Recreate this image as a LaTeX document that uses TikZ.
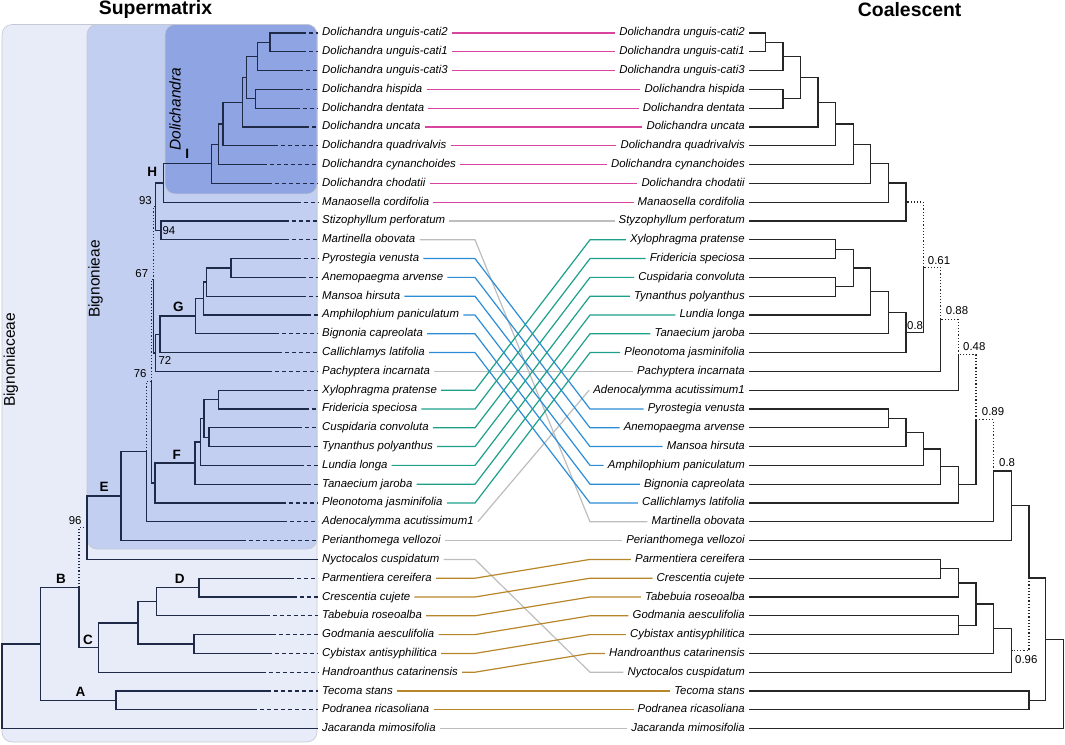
\documentclass[tikz,border=0pt]{standalone}
\usepackage{fontspec}
\setmainfont{Liberation Sans}
\definecolor{treecol}{HTML}{1E2A47}
\definecolor{famfill}{HTML}{E7ECF8}
\definecolor{tribefill}{HTML}{C3CFF0}
\definecolor{genfill}{HTML}{8EA4E3}
\definecolor{boxedge}{HTML}{C4C8D4}
\definecolor{magline}{HTML}{D8449F}
\definecolor{gryline}{HTML}{BDBDBD}
\definecolor{bluline}{HTML}{2D8CD6}
\definecolor{grnline}{HTML}{1CA08A}
\definecolor{gldline}{HTML}{B8862A}
\tikzset{
  tree/.style={treecol,line width=1.3pt},
  ctree/.style={black!85,line width=1.3pt},
  tipdash/.style={treecol,line width=1.1pt,dash pattern=on 4pt off 3pt},
  lowsup/.style={treecol,line width=1.2pt,dash pattern=on 1.2pt off 2pt},
  clowsup/.style={black!85,line width=1.2pt,dash pattern=on 1.2pt off 2pt},
  cbox/.style={draw=boxedge,line width=0.6pt,rounded corners=10pt},
  lft/.style={anchor=west,inner xsep=4pt,inner ysep=1pt,text height=8pt,text depth=2pt,font=\itshape\fontsize{11.4}{12}\selectfont},
  rgt/.style={anchor=east,inner xsep=4pt,inner ysep=1pt,text height=8pt,text depth=2pt,font=\itshape\fontsize{11.4}{12}\selectfont},
  sup/.style={inner sep=1pt,font=\fontsize{11.4}{12}\selectfont},
  clade/.style={inner sep=0pt,font=\bfseries\fontsize{13.5}{14}\selectfont},
  link/.style={line width=1.2pt},
}
\begin{document}
\begin{tikzpicture}[x=1pt,y=-18.8pt]
\useasboundingbox (0,-1.755) rectangle (1065,37.82);
\draw[cbox,fill=famfill] (2,-0.45) rectangle (317,37.71);
\draw[cbox,fill=tribefill] (87,-0.45) rectangle (317,27.45);
\draw[cbox,fill=genfill] (165,-0.45) rectangle (317,8.56);
\node[font=\bfseries\fontsize{19.4}{20}\selectfont] (supm) at (155.5,-1.27) {Supermatrix};
\node[font=\bfseries\fontsize{19.4}{20}\selectfont] (coal) at (909.7,-1.27) {Coalescent};
\node[rotate=90,font=\fontsize{15.5}{16}\selectfont] (fam) at (10.8,17.39) {Bignoniaceae};
\node[rotate=90,font=\fontsize{15.5}{16}\selectfont] (tribe) at (95.5,13.09) {Bignonieae};
\node[rotate=90,font=\itshape\fontsize{15.5}{16}\selectfont] (genus) at (175,4.05) {Dolichandra};

\node[lft] (L0) at (318,0) {Dolichandra unguis-cati2};
\node[lft] (L1) at (318,1) {Dolichandra unguis-cati1};
\node[lft] (L2) at (318,2) {Dolichandra unguis-cati3};
\node[lft] (L3) at (318,3) {Dolichandra hispida};
\node[lft] (L4) at (318,4) {Dolichandra dentata};
\node[lft] (L5) at (318,5) {Dolichandra uncata};
\node[lft] (L6) at (318,6) {Dolichandra quadrivalvis};
\node[lft] (L7) at (318,7) {Dolichandra cynanchoides};
\node[lft] (L8) at (318,8) {Dolichandra chodatii};
\node[lft] (L9) at (318,9) {Manaosella cordifolia};
\node[lft] (L10) at (318,10) {Stizophyllum perforatum};
\node[lft] (L11) at (318,11) {Martinella obovata};
\node[lft] (L12) at (318,12) {Pyrostegia venusta};
\node[lft] (L13) at (318,13) {Anemopaegma arvense};
\node[lft] (L14) at (318,14) {Mansoa hirsuta};
\node[lft] (L15) at (318,15) {Amphilophium paniculatum};
\node[lft] (L16) at (318,16) {Bignonia capreolata};
\node[lft] (L17) at (318,17) {Callichlamys latifolia};
\node[lft] (L18) at (318,18) {Pachyptera incarnata};
\node[lft] (L19) at (318,19) {Xylophragma pratense};
\node[lft] (L20) at (318,20) {Fridericia speciosa};
\node[lft] (L21) at (318,21) {Cuspidaria convoluta};
\node[lft] (L22) at (318,22) {Tynanthus polyanthus};
\node[lft] (L23) at (318,23) {Lundia longa};
\node[lft] (L24) at (318,24) {Tanaecium jaroba};
\node[lft] (L25) at (318,25) {Pleonotoma jasminifolia};
\node[lft] (L26) at (318,26) {Adenocalymma acutissimum1};
\node[lft] (L27) at (318,27) {Perianthomega vellozoi};
\node[lft] (L28) at (318,28) {Nyctocalos cuspidatum};
\node[lft] (L29) at (318,29) {Parmentiera cereifera};
\node[lft] (L30) at (318,30) {Crescentia cujete};
\node[lft] (L31) at (318,31) {Tabebuia roseoalba};
\node[lft] (L32) at (318,32) {Godmania aesculifolia};
\node[lft] (L33) at (318,33) {Cybistax antisyphilitica};
\node[lft] (L34) at (318,34) {Handroanthus catarinensis};
\node[lft] (L35) at (318,35) {Tecoma stans};
\node[lft] (L36) at (318,36) {Podranea ricasoliana};
\node[lft] (L37) at (318,37) {Jacaranda mimosifolia};

\node[rgt] (R0) at (749,0) {Dolichandra unguis-cati2};
\node[rgt] (R1) at (749,1) {Dolichandra unguis-cati1};
\node[rgt] (R2) at (749,2) {Dolichandra unguis-cati3};
\node[rgt] (R3) at (749,3) {Dolichandra hispida};
\node[rgt] (R4) at (749,4) {Dolichandra dentata};
\node[rgt] (R5) at (749,5) {Dolichandra uncata};
\node[rgt] (R6) at (749,6) {Dolichandra quadrivalvis};
\node[rgt] (R7) at (749,7) {Dolichandra cynanchoides};
\node[rgt] (R8) at (749,8) {Dolichandra chodatii};
\node[rgt] (R9) at (749,9) {Manaosella cordifolia};
\node[rgt] (R10) at (749,10) {Styzophyllum perforatum};
\node[rgt] (R11) at (749,11) {Xylophragma pratense};
\node[rgt] (R12) at (749,12) {Fridericia speciosa};
\node[rgt] (R13) at (749,13) {Cuspidaria convoluta};
\node[rgt] (R14) at (749,14) {Tynanthus polyanthus};
\node[rgt] (R15) at (749,15) {Lundia longa};
\node[rgt] (R16) at (749,16) {Tanaecium jaroba};
\node[rgt] (R17) at (749,17) {Pleonotoma jasminifolia};
\node[rgt] (R18) at (749,18) {Pachyptera incarnata};
\node[rgt] (R19) at (749,19) {Adenocalymma acutissimum1};
\node[rgt] (R20) at (749,20) {Pyrostegia venusta};
\node[rgt] (R21) at (749,21) {Anemopaegma arvense};
\node[rgt] (R22) at (749,22) {Mansoa hirsuta};
\node[rgt] (R23) at (749,23) {Amphilophium paniculatum};
\node[rgt] (R24) at (749,24) {Bignonia capreolata};
\node[rgt] (R25) at (749,25) {Callichlamys latifolia};
\node[rgt] (R26) at (749,26) {Martinella obovata};
\node[rgt] (R27) at (749,27) {Perianthomega vellozoi};
\node[rgt] (R28) at (749,28) {Parmentiera cereifera};
\node[rgt] (R29) at (749,29) {Crescentia cujete};
\node[rgt] (R30) at (749,30) {Tabebuia roseoalba};
\node[rgt] (R31) at (749,31) {Godmania aesculifolia};
\node[rgt] (R32) at (749,32) {Cybistax antisyphilitica};
\node[rgt] (R33) at (749,33) {Handroanthus catarinensis};
\node[rgt] (R34) at (749,34) {Nyctocalos cuspidatum};
\node[rgt] (R35) at (749,35) {Tecoma stans};
\node[rgt] (R36) at (749,36) {Podranea ricasoliana};
\node[rgt] (R37) at (749,37) {Jacaranda mimosifolia};

\coordinate (s0) at (301.7,0); \coordinate (s1) at (301.7,1); \coordinate (s2) at (299,2);
\coordinate (s3) at (299,3); \coordinate (s4) at (295.7,4); \coordinate (s5) at (305,5);
\coordinate (s6) at (274,6); \coordinate (s7) at (263,7); \coordinate (s8) at (268,8);
\coordinate (s9) at (296.7,9); \coordinate (s10) at (285,10); \coordinate (s11) at (285,11);
\coordinate (s12) at (296.7,12); \coordinate (s13) at (301.7,13); \coordinate (s14) at (301.7,14);
\coordinate (s15) at (306.7,15); \coordinate (s16) at (275,16); \coordinate (s17) at (278,17);
\coordinate (s18) at (268,18); \coordinate (s19) at (300,19); \coordinate (s20) at (305,20);
\coordinate (s21) at (298,21); \coordinate (s22) at (306.7,22); \coordinate (s23) at (300,23);
\coordinate (s24) at (306.7,24); \coordinate (s25) at (281.7,25); \coordinate (s26) at (283,26);
\coordinate (s27) at (241.7,27); \coordinate (s29) at (290,29); \coordinate (s30) at (293,30);
\coordinate (s31) at (265.7,31); \coordinate (s32) at (271.7,32); \coordinate (s33) at (268.3,33);
\coordinate (s34) at (261.7,34); \coordinate (s35) at (266.7,35); \coordinate (s36) at (253,36);

\coordinate (n01) at (270,0.5);
\coordinate (n012) at (257.3,1.25);
\coordinate (n34) at (255.3,3.5);
\coordinate (n0_4) at (246.7,2.375);
\coordinate (n0_5) at (242.3,3.69);
\coordinate (n0_6) at (223,4.84);
\coordinate (n0_7) at (218.3,5.92);
\coordinate (nI) at (211.7,6.96);
\coordinate (nH) at (163.3,7.98);
\coordinate (n94) at (161,10.5);
\coordinate (nHS) at (155.7,9.24);
\coordinate (n12) at (231,12.5);
\coordinate (n12_14) at (206.7,13.25);
\coordinate (n12_15) at (203.3,14.125);
\coordinate (n12_16) at (195.7,15.06);
\coordinate (nG) at (160,16.03);
\coordinate (n72) at (155.7,17.02);
\coordinate (n93) at (153.7,13.13);
\coordinate (n19) at (218.3,19.5);
\coordinate (n21) at (209,21.5);
\coordinate (n19_22) at (204,20.5);
\coordinate (n19_23) at (200.7,21.75);
\coordinate (nF) at (195,22.875);
\coordinate (nFp) at (155,23.94);
\coordinate (n67) at (151.2,18.53);
\coordinate (n76) at (146.7,22.27);
\coordinate (nE2) at (121,24.63);
\coordinate (nE) at (87,26.32);
\coordinate (n29) at (199,29.5);
\coordinate (n29_31) at (156.7,30.25);
\coordinate (n32) at (194,32.5);
\coordinate (n29_33) at (138,31.375);
\coordinate (nC) at (98.7,32.69);
\coordinate (n96) at (79,29.5);
\coordinate (nA) at (116,35.5);
\coordinate (nB) at (40.7,32.5);
\coordinate (nroot) at (2,34.75);

\draw[tree] (n01) |- (s0) (n01) |- (s1) (n012) |- (n01) (n012) |- (s2);
\draw[tree] (n34) |- (s3) (n34) |- (s4) (n0_4) |- (n012) (n0_4) |- (n34);
\draw[tree] (n0_5) |- (n0_4) (n0_5) |- (s5) (n0_6) |- (n0_5) (n0_6) |- (s6);
\draw[tree] (n0_7) |- (n0_6) (n0_7) |- (s7) (nI) |- (n0_7) (nI) |- (s8);
\draw[tree] (nH) |- (nI) (nH) |- (s9) (n94) |- (s10) (n94) |- (s11);
\draw[tree] (nHS) |- (nH) (nHS) |- (n94);
\draw[tree] (n12) |- (s12) (n12) |- (s13) (n12_14) |- (n12) (n12_14) |- (s14);
\draw[tree] (n12_15) |- (n12_14) (n12_15) |- (s15) (n12_16) |- (n12_15) (n12_16) |- (s16);
\draw[tree] (nG) |- (n12_16) (nG) |- (s17) (n72) |- (nG) (n72) |- (s18);
\draw[tree] (n93) |- (n72);
\draw[lowsup] (n93) |- (nHS);
\draw[tree] (n19) |- (s19) (n19) |- (s20) (n21) |- (s21) (n21) |- (s22);
\draw[tree] (n19_22) |- (n19) (n19_22) |- (n21) (n19_23) |- (n19_22) (n19_23) |- (s23);
\draw[tree] (nF) |- (n19_23) (nF) |- (s24) (nFp) |- (nF) (nFp) |- (s25);
\draw[tree] (n67) |- (nFp);
\draw[lowsup] (n67) |- (n93);
\draw[tree] (n76) |- (s26);
\draw[lowsup] (n76) |- (n67);
\draw[tree] (nE2) |- (n76) (nE2) |- (s27) (nE) |- (nE2) (nE) |- (L28.west);
\draw[tree] (n29) |- (s29) (n29) |- (s30) (n29_31) |- (n29) (n29_31) |- (s31);
\draw[tree] (n32) |- (s32) (n32) |- (s33) (n29_33) |- (n29_31) (n29_33) |- (n32);
\draw[tree] (nC) |- (n29_33) (nC) |- (s34) (n96) |- (nC);
\draw[lowsup] (n96) |- (nE);
\draw[tree] (nA) |- (s35) (nA) |- (s36) (nB) |- (n96) (nB) |- (nA);
\draw[tree] (nroot) |- (nB) (nroot) |- (L37.west);

\draw[tipdash] (s0) -- (L0.west); \draw[tipdash] (s1) -- (L1.west); \draw[tipdash] (s2) -- (L2.west);
\draw[tipdash] (s3) -- (L3.west); \draw[tipdash] (s4) -- (L4.west); \draw[tipdash] (s5) -- (L5.west);
\draw[tipdash] (s6) -- (L6.west); \draw[tipdash] (s7) -- (L7.west); \draw[tipdash] (s8) -- (L8.west);
\draw[tipdash] (s9) -- (L9.west); \draw[tipdash] (s10) -- (L10.west); \draw[tipdash] (s11) -- (L11.west);
\draw[tipdash] (s12) -- (L12.west); \draw[tipdash] (s13) -- (L13.west); \draw[tipdash] (s14) -- (L14.west);
\draw[tipdash] (s15) -- (L15.west); \draw[tipdash] (s16) -- (L16.west); \draw[tipdash] (s17) -- (L17.west);
\draw[tipdash] (s18) -- (L18.west); \draw[tipdash] (s19) -- (L19.west); \draw[tipdash] (s20) -- (L20.west);
\draw[tipdash] (s21) -- (L21.west); \draw[tipdash] (s22) -- (L22.west); \draw[tipdash] (s23) -- (L23.west);
\draw[tipdash] (s24) -- (L24.west); \draw[tipdash] (s25) -- (L25.west); \draw[tipdash] (s26) -- (L26.west);
\draw[tipdash] (s27) -- (L27.west); \draw[tipdash] (s29) -- (L29.west); \draw[tipdash] (s30) -- (L30.west);
\draw[tipdash] (s31) -- (L31.west); \draw[tipdash] (s32) -- (L32.west); \draw[tipdash] (s33) -- (L33.west);
\draw[tipdash] (s34) -- (L34.west); \draw[tipdash] (s35) -- (L35.west); \draw[tipdash] (s36) -- (L36.west);

\node[clade] (cI) at (187.2,6.43) {I};
\node[clade] (cH) at (152.2,7.41) {H};
\node[clade] (cG) at (178.3,14.56) {G};
\node[clade] (cF) at (176.7,22.45) {F};
\node[clade] (cE) at (104.2,24.13) {E};
\node[clade] (cD) at (179.8,29.01) {D};
\node[clade] (cC) at (88,32.26) {C};
\node[clade] (cB) at (61,29.01) {B};
\node[clade] (cA) at (80.5,35.02) {A};
\node[sup,anchor=south east] (b93) at (153,9.2) {93};
\node[sup,anchor=west] (b94) at (161.3,10.49) {94};
\node[sup,anchor=south east] (b67) at (149.3,13.1) {67};
\node[sup,anchor=north west] (b72) at (157.3,17.13) {72};
\node[sup,anchor=south east] (b76) at (147.7,18.42) {76};
\node[sup,anchor=south east] (b96) at (82.7,26.2) {96};

\coordinate (r01) at (765.7,0.5);
\coordinate (r012) at (783,1.25);
\coordinate (r34) at (783,3.5);
\coordinate (r0_4) at (800.3,2.375);
\coordinate (r0_5) at (818,3.69);
\coordinate (r0_6) at (835.7,4.84);
\coordinate (r0_7) at (853.3,5.92);
\coordinate (r0_8) at (870.7,6.96);
\coordinate (r0_9) at (888.3,7.98);
\coordinate (r0_10) at (906,8.99);
\coordinate (r11) at (835.7,11.5);
\coordinate (r13) at (835.7,13.5);
\coordinate (r11_14) at (853.3,12.5);
\coordinate (r11_15) at (870.7,13.75);
\coordinate (r11_16) at (888.3,14.875);
\coordinate (r11_17) at (906,15.94);
\coordinate (r61) at (923.3,12.46);
\coordinate (r88) at (940.7,15.23);
\coordinate (r48) at (958.3,17.12);
\coordinate (r20) at (888.3,20.5);
\coordinate (r20_22) at (906,21.25);
\coordinate (r20_23) at (923.3,22.125);
\coordinate (r20_24) at (940.7,23.06);
\coordinate (r20_25) at (958.3,24.03);
\coordinate (r89) at (976,20.57);
\coordinate (r80) at (993.3,23.29);
\coordinate (r27) at (1011.7,25.14);
\coordinate (r28) at (940.7,28.5);
\coordinate (r28_30) at (958.3,29.25);
\coordinate (r31) at (958.3,31.5);
\coordinate (r28_32) at (976,30.375);
\coordinate (r28_33) at (993.3,31.69);
\coordinate (r96) at (1011.7,32.84);
\coordinate (rX) at (1029,28.99);
\coordinate (r35) at (1029,35.5);
\coordinate (r35b) at (1045.7,32.25);
\coordinate (rroot) at (1063.3,34.62);

\draw[ctree] (r01) |- (R0.east) (r01) |- (R1.east) (r012) |- (r01) (r012) |- (R2.east);
\draw[ctree] (r34) |- (R3.east) (r34) |- (R4.east) (r0_4) |- (r012) (r0_4) |- (r34);
\draw[ctree] (r0_5) |- (r0_4) (r0_5) |- (R5.east) (r0_6) |- (r0_5) (r0_6) |- (R6.east);
\draw[ctree] (r0_7) |- (r0_6) (r0_7) |- (R7.east) (r0_8) |- (r0_7) (r0_8) |- (R8.east);
\draw[ctree] (r0_9) |- (r0_8) (r0_9) |- (R9.east) (r0_10) |- (r0_9) (r0_10) |- (R10.east);
\draw[ctree] (r11) |- (R11.east) (r11) |- (R12.east) (r13) |- (R13.east) (r13) |- (R14.east);
\draw[ctree] (r11_14) |- (r11) (r11_14) |- (r13) (r11_15) |- (r11_14) (r11_15) |- (R15.east);
\draw[ctree] (r11_16) |- (r11_15) (r11_16) |- (R16.east) (r11_17) |- (r11_16) (r11_17) |- (R17.east);
\draw[ctree] (r61) |- (r11_17);
\draw[clowsup] (r61) |- (r0_10);
\draw[ctree] (r88) |- (R18.east);
\draw[clowsup] (r88) |- (r61);
\draw[ctree] (r48) |- (R19.east);
\draw[clowsup] (r48) |- (r88);
\draw[ctree] (r20) |- (R20.east) (r20) |- (R21.east) (r20_22) |- (r20) (r20_22) |- (R22.east);
\draw[ctree] (r20_23) |- (r20_22) (r20_23) |- (R23.east) (r20_24) |- (r20_23) (r20_24) |- (R24.east);
\draw[ctree] (r20_25) |- (r20_24) (r20_25) |- (R25.east) (r89) |- (r20_25);
\draw[clowsup] (r89) |- (r48);
\draw[ctree] (r80) |- (R26.east);
\draw[clowsup] (r80) |- (r89);
\draw[ctree] (r27) |- (r80) (r27) |- (R27.east);
\draw[ctree] (r28) |- (R28.east) (r28) |- (R29.east) (r28_30) |- (r28) (r28_30) |- (R30.east);
\draw[ctree] (r31) |- (R31.east) (r31) |- (R32.east) (r28_32) |- (r28_30) (r28_32) |- (r31);
\draw[ctree] (r28_33) |- (r28_32) (r28_33) |- (R33.east) (r96) |- (r28_33) (r96) |- (R34.east);
\draw[ctree] (rX) |- (r27);
\draw[clowsup] (rX) |- (r96);
\draw[ctree] (r35) |- (R35.east) (r35) |- (R36.east) (r35b) |- (rX) (r35b) |- (r35);
\draw[ctree] (rroot) |- (r35b) (rroot) |- (R37.east);

\node[sup,anchor=south west] (p61) at (926.7,12.39) {0.61};
\node[sup,anchor=south west] (p88) at (944.7,15.05) {0.88};
\node[sup,anchor=south west] (p48) at (962,16.95) {0.48};
\node[sup,anchor=south west] (p89) at (980.7,20.41) {0.89};
\node[sup,anchor=south west] (p80a) at (998,23.14) {0.8};
\node[sup,anchor=south west] (p80b) at (906,15.85) {0.8};
\node[sup,anchor=north west] (p96) at (1014,33.03) {0.96};

\coordinate (bl) at (475,0);
\coordinate (br) at (590,0);
\draw[link,magline] (L0) -- (R0); \draw[link,magline] (L1) -- (R1); \draw[link,magline] (L2) -- (R2);
\draw[link,magline] (L3) -- (R3); \draw[link,magline] (L4) -- (R4); \draw[link,magline] (L5) -- (R5);
\draw[link,magline] (L6) -- (R6); \draw[link,magline] (L7) -- (R7); \draw[link,magline] (L8) -- (R8);
\draw[link,magline] (L9) -- (R9);
\draw[link,gryline] (L10) -- (R10);
\draw[link,gryline] (L18) -- (R18);
\draw[link,gryline] (L27) -- (R27);
\draw[link,gryline] (L37) -- (R37);
\draw[link,gryline] (L11.east) -- (L11.east -| bl) -- (R26.west -| br) -- (R26.west);
\draw[link,gryline] (L26.east) -- (R19.west);
\draw[link,gryline] (L28.east) -- (L28.east -| bl) -- (R34.west -| br) -- (R34.west);
\draw[link,bluline] (L12.east) -- (L12.east -| bl) -- (R20.west -| br) -- (R20.west);
\draw[link,bluline] (L13.east) -- (L13.east -| bl) -- (R21.west -| br) -- (R21.west);
\draw[link,bluline] (L14.east) -- (L14.east -| bl) -- (R22.west -| br) -- (R22.west);
\draw[link,bluline] (L15.east) -- (L15.east -| bl) -- (R23.west -| br) -- (R23.west);
\draw[link,bluline] (L16.east) -- (L16.east -| bl) -- (R24.west -| br) -- (R24.west);
\draw[link,bluline] (L17.east) -- (L17.east -| bl) -- (R25.west -| br) -- (R25.west);
\draw[link,grnline] (L19.east) -- (L19.east -| bl) -- (R11.west -| br) -- (R11.west);
\draw[link,grnline] (L20.east) -- (L20.east -| bl) -- (R12.west -| br) -- (R12.west);
\draw[link,grnline] (L21.east) -- (L21.east -| bl) -- (R13.west -| br) -- (R13.west);
\draw[link,grnline] (L22.east) -- (L22.east -| bl) -- (R14.west -| br) -- (R14.west);
\draw[link,grnline] (L23.east) -- (L23.east -| bl) -- (R15.west -| br) -- (R15.west);
\draw[link,grnline] (L24.east) -- (L24.east -| bl) -- (R16.west -| br) -- (R16.west);
\draw[link,grnline] (L25.east) -- (L25.east -| bl) -- (R17.west -| br) -- (R17.west);
\draw[link,gldline] (L29.east) -- (L29.east -| bl) -- (R28.west -| br) -- (R28.west);
\draw[link,gldline] (L30.east) -- (L30.east -| bl) -- (R29.west -| br) -- (R29.west);
\draw[link,gldline] (L31.east) -- (L31.east -| bl) -- (R30.west -| br) -- (R30.west);
\draw[link,gldline] (L32.east) -- (L32.east -| bl) -- (R31.west -| br) -- (R31.west);
\draw[link,gldline] (L33.east) -- (L33.east -| bl) -- (R32.west -| br) -- (R32.west);
\draw[link,gldline] (L34.east) -- (L34.east -| bl) -- (R33.west -| br) -- (R33.west);
\draw[link,gldline] (L35) -- (R35); \draw[link,gldline] (L36) -- (R36);
\end{tikzpicture}
\end{document}
